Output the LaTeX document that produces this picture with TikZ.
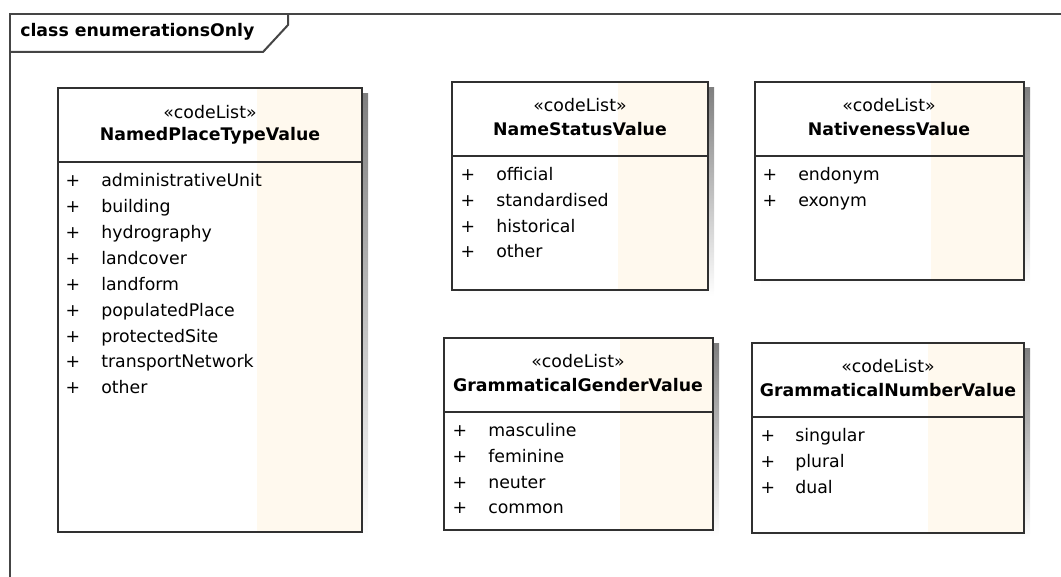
\documentclass[tikz,border=0pt]{standalone}
\usepackage{fontspec}
\setmainfont{DejaVu Sans}
\usepackage{xcolor}
\usepackage{tikz}

\definecolor{cream}{RGB}{255,249,238}
\definecolor{edge}{RGB}{48,48,48}
\definecolor{shade}{RGB}{200,200,200}

\begin{document}
\begin{tikzpicture}[x=0.75pt,y=-0.75pt,
  frame/.style={line width=1.5pt,draw=edge!90},
  box/.style={line width=1.5pt,draw=edge},
  umltext/.style={inner sep=0pt,font=\fontsize{13}{15}\selectfont},
  stereo/.style={umltext,anchor=mid},
  classname/.style={umltext,anchor=mid,font=\fontsize{13}{15}\selectfont\bfseries},
  item/.style={umltext,anchor=mid west}]
\useasboundingbox (0,0) rectangle (1061,577);

% diagram frame
\draw[frame] (1061,14) -- (10,14) -- (10,577);
\draw[frame] (10,52) -- (263,52) -- (288,25) -- (288,14);
\node[umltext,anchor=mid west,font=\fontsize{13}{15}\selectfont\bfseries] (frametitle) at (20,33) {class enumerationsOnly};

% NamedPlaceTypeValue
\fill[shade] (64,94) rectangle (368,538);
\fill[white] (58,88) rectangle (257,532);
\fill[cream] (257,88) rectangle (362,532);
\draw[box] (58,88) rectangle (362,532);
\draw[box] (58,162) -- (362,162);
\node[stereo] (npt-st) at (210,115) {«codeList»};
\node[classname] (npt-name) at (210,137) {NamedPlaceTypeValue};
\foreach\t[count=\i from 0] in {administrativeUnit,building,hydrography,landcover,landform,populatedPlace,protectedSite,transportNetwork,other}{
  \node[stereo] (npt-plus\i) at (73,{183+25.9*\i}) {+};
  \node[item] (npt-item\i) at (101,{183+25.9*\i}) {\t};}

% NameStatusValue
\fill[shade] (458,88) rectangle (714,296);
\fill[white] (452,82) rectangle (618,290);
\fill[cream] (618,82) rectangle (708,290);
\draw[box] (452,82) rectangle (708,290);
\draw[box] (452,156) -- (708,156);
\node[stereo] (nsv-st) at (580,108) {«codeList»};
\node[classname] (nsv-name) at (580,132) {NameStatusValue};
\foreach\t[count=\i from 0] in {official,standardised,historical,other}{
  \node[stereo] (nsv-plus\i) at (468,{177+25.7*\i}) {+};
  \node[item] (nsv-item\i) at (496,{177+25.7*\i}) {\t};}

% NativenessValue
\fill[shade] (761,88) rectangle (1030,286);
\fill[white] (755,82) rectangle (931,280);
\fill[cream] (931,82) rectangle (1024,280);
\draw[box] (755,82) rectangle (1024,280);
\draw[box] (755,156) -- (1024,156);
\node[stereo] (nat-st) at (889,108) {«codeList»};
\node[classname] (nat-name) at (889,132) {NativenessValue};
\foreach\t[count=\i from 0] in {endonym,exonym}{
  \node[stereo] (nat-plus\i) at (770,{177+25.7*\i}) {+};
  \node[item] (nat-item\i) at (798,{177+25.7*\i}) {\t};}

% GrammaticalGenderValue
\fill[shade] (450,344) rectangle (719,536);
\fill[white] (444,338) rectangle (620,530);
\fill[cream] (620,338) rectangle (713,530);
\draw[box] (444,338) rectangle (713,530);
\draw[box] (444,412) -- (713,412);
\node[stereo] (ggv-st) at (578,364) {«codeList»};
\node[classname] (ggv-name) at (578,388) {GrammaticalGenderValue};
\foreach\t[count=\i from 0] in {masculine,feminine,neuter,common}{
  \node[stereo] (ggv-plus\i) at (460,{433+25.7*\i}) {+};
  \node[item] (ggv-item\i) at (488,{433+25.7*\i}) {\t};}

% GrammaticalNumberValue
\fill[shade] (758,349) rectangle (1030,539);
\fill[white] (752,343) rectangle (928,533);
\fill[cream] (928,343) rectangle (1024,533);
\draw[box] (752,343) rectangle (1024,533);
\draw[box] (752,417) -- (1024,417);
\node[stereo] (gnv-st) at (888,369) {«codeList»};
\node[classname] (gnv-name) at (888,393) {GrammaticalNumberValue};
\foreach\t[count=\i from 0] in {singular,plural,dual}{
  \node[stereo] (gnv-plus\i) at (768,{438+25.7*\i}) {+};
  \node[item] (gnv-item\i) at (795,{438+25.7*\i}) {\t};}
\end{tikzpicture}
\end{document}
